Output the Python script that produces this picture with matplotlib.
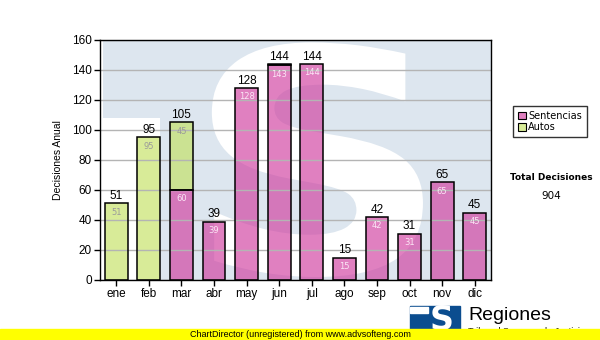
import matplotlib
matplotlib.use("Agg")
import matplotlib.pyplot as plt
from matplotlib.patches import Rectangle, PathPatch
from matplotlib.textpath import TextPath
from matplotlib.font_manager import FontProperties
from matplotlib.transforms import Affine2D

plt.rcParams["font.family"] = ["Liberation Sans", "DejaVu Sans"]

months = ["ene", "feb", "mar", "abr", "may", "jun", "jul", "ago", "sep", "oct", "nov", "dic"]
sentencias = [0, 0, 60, 39, 128, 143, 144, 15, 42, 31, 65, 45]
autos = [51, 95, 45, 0, 0, 1, 0, 0, 0, 0, 0, 0]
series_names = ["Sentencias", "Autos"]
y_ticks = [0, 20, 40, 60, 80, 100, 120, 140, 160]

pink = (207 / 255, 57 / 255, 157 / 255)
green = (194 / 255, 225 / 255, 94 / 255)
bar_alpha = 0.64
wm_blue = "#dde6ef"

fig = plt.figure(figsize=(6, 3.4), dpi=100)
ax = fig.add_axes([100 / 600, 60 / 340, 391 / 600, 240 / 340])
ax.set_facecolor(wm_blue)

# logo watermark behind the bars
ax.add_patch(Rectangle((0, 0), 0.007, 1, transform=ax.transAxes, color="white", zorder=0.5, lw=0))
ax.add_patch(Rectangle((0, 0), 0.153, 0.675, transform=ax.transAxes, color="white", zorder=0.5, lw=0))
s_path = TextPath((0, 0), "S", size=1, prop=FontProperties(family="DejaVu Sans", weight="bold"))
ext = s_path.get_extents()
x0, x1, y0, y1 = 0.286, 0.826, 0.0125, 0.99
tr = (Affine2D().translate(-ext.x0, -ext.y0)
      .scale((x1 - x0) / ext.width, (y1 - y0) / ext.height)
      .translate(x0, y0))
ax.add_patch(PathPatch(tr.transform_path(s_path), transform=ax.transAxes,
                       facecolor="white", edgecolor="none", zorder=0.6))

x = list(range(len(months)))
w = 0.7
b1 = ax.bar(x, sentencias, width=w, color=pink, alpha=bar_alpha, zorder=2, label=series_names[0])
b2 = ax.bar(x, autos, width=w, bottom=sentencias, color=green, alpha=bar_alpha, zorder=2,
            label=series_names[1])
# black outlines on top of the translucent fills
for i in x:
    if sentencias[i] > 0:
        ax.bar(i, sentencias[i], width=w, fill=False, edgecolor="black", lw=1.1, zorder=4)
    if autos[i] > 0:
        ax.bar(i, autos[i], bottom=sentencias[i], width=w, fill=False, edgecolor="black",
               lw=1.1, zorder=4)

ax.set_ylim(0, 160)
ax.set_xlim(-0.5, len(months) - 0.5)
ax.set_yticks(y_ticks)
ax.set_xticks(x)
ax.set_xticklabels(months)
ax.yaxis.grid(True, color="#b4b4b4", lw=1, zorder=3)
ax.set_axisbelow(False)
for gl in ax.get_ygridlines():
    gl.set_zorder(3)
ax.tick_params(axis="both", labelsize=8.5, length=4, width=1, color="black", pad=2)
for sp in ax.spines.values():
    sp.set_color("black")
    sp.set_linewidth(1)
    sp.set_zorder(5)
ax.set_ylabel("Decisiones Anual", fontsize=7.5, labelpad=6)

# segment values inside the bars and totals above
for i in x:
    s, a = sentencias[i], autos[i]
    if s >= 5:
        ax.annotate(str(s), (i, s), xytext=(0, -3), textcoords="offset points",
                    ha="center", va="top", fontsize=6, color="#fbe6f5", zorder=6,
                    family="DejaVu Sans")
    if a >= 5:
        ax.annotate(str(a), (i, s + a), xytext=(0, -3), textcoords="offset points",
                    ha="center", va="top", fontsize=6, color="#9a9a9a", zorder=6,
                    family="DejaVu Sans")
    ax.annotate(str(s + a), (i, s + a), xytext=(0, 1), textcoords="offset points",
                ha="center", va="bottom", fontsize=8.5, color="black", zorder=6)

# legend
leg = fig.legend(handles=[b1, b2], labels=series_names, loc="upper left",
                 bbox_to_anchor=(508 / 600, 1 - 101 / 340), prop={"family": "DejaVu Sans", "size": 7},
                 frameon=True, fancybox=False, edgecolor="black", handlelength=0.8,
                 handleheight=0.8, handletextpad=0.3, borderpad=0.5, labelspacing=0.15)
leg.get_frame().set_linewidth(1)
for h in leg.legend_handles:
    h.set_edgecolor("black")
    h.set_linewidth(0.8)
    h.set_alpha(None)
leg.legend_handles[0].set_facecolor("#e080c0")
leg.legend_handles[1].set_facecolor("#d8ec98")

total = sum(sentencias) + sum(autos)
fig.text(551 / 600, 1 - 177 / 340, "Total Decisiones", ha="center", va="center",
         fontsize=6.5, fontweight="bold", family="DejaVu Sans")
fig.text(551 / 600, 1 - 196 / 340, str(total), ha="center", va="center", fontsize=7.5,
         family="DejaVu Sans")

# footer logo
logo_blue = "#0b4d8f"
fig.patches.append(Rectangle((410 / 600, 1 - 336 / 340), 50 / 600, 30 / 340,
                             transform=fig.transFigure, color=logo_blue, zorder=1))
fig.text(442 / 600, 1 - 321 / 340, "S", ha="center", va="center", fontsize=24,
         fontweight="bold", family="DejaVu Sans", color="white", zorder=2)
fig.patches.append(Rectangle((410 / 600, 1 - 313 / 340), 18 / 600, 6 / 340,
                             transform=fig.transFigure, color="white", zorder=1.5))
fig.text(468 / 600, 1 - 316 / 340, "Regiones", ha="left", va="center", fontsize=14,
         color="black", zorder=2)
fig.text(468 / 600, 1 - 331.5 / 340, "Tribunal Supremo de Justicia", ha="left", va="center",
         fontsize=6.5, color="black", zorder=2)

# yellow banner
fig.patches.append(Rectangle((0, 0), 1, 11 / 340, transform=fig.transFigure,
                             color="#ffff00", zorder=10))
fig.text(190 / 600, 5.5 / 340, "ChartDirector (unregistered) from www.advsofteng.com",
         ha="left", va="center", fontsize=6.5, color="black", zorder=11)

fig.savefig("out.png", dpi=100)
